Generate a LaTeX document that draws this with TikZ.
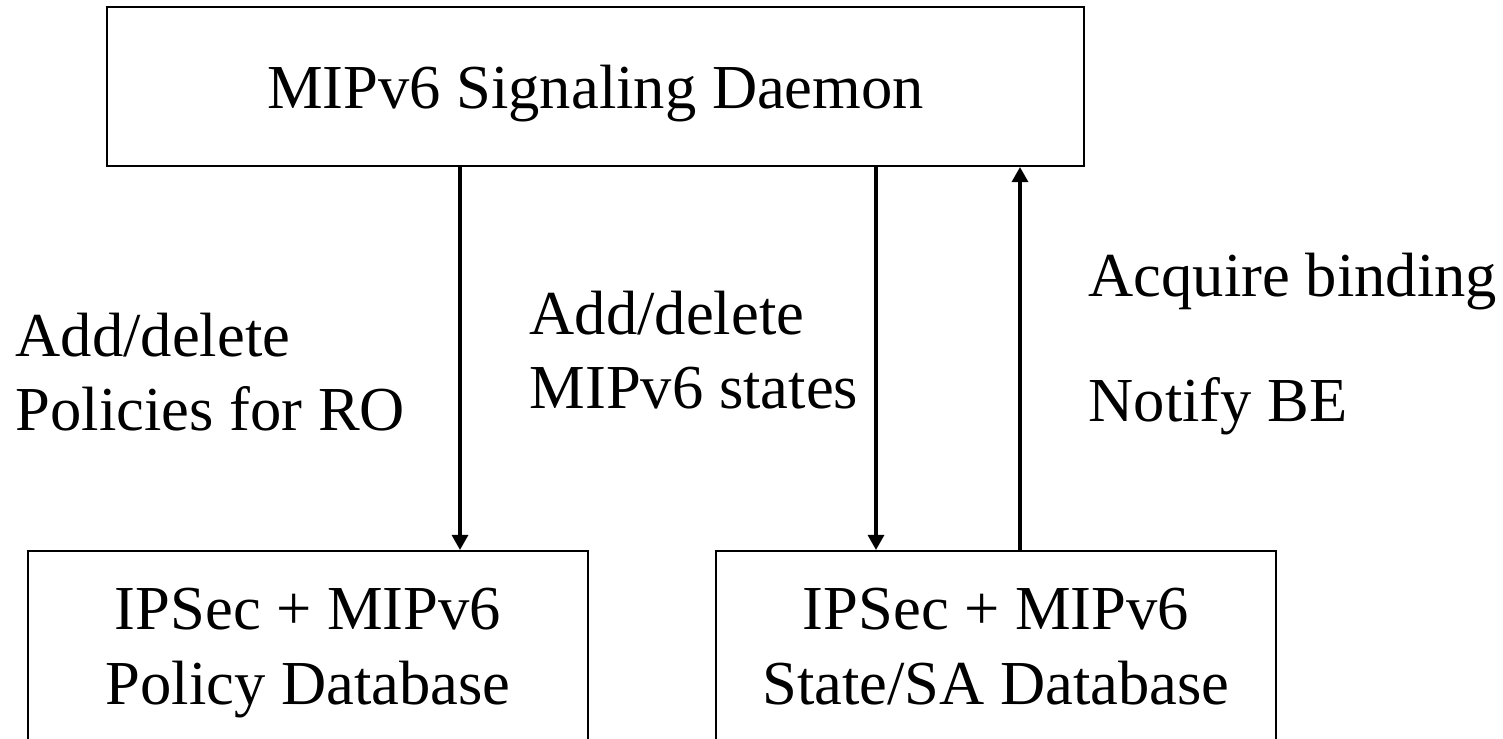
\documentclass[tikz,border=0pt]{standalone}
\usepackage{fontspec}
\setmainfont{Liberation Serif}
\usetikzlibrary{arrows.meta}

\begin{document}
\begin{tikzpicture}[
	box/.style={draw, line width=0.6pt, inner sep=0pt, align=center},
	dbbox/.style={box, minimum width=5.60cm, minimum height=2.05cm, text depth=0.14cm},
	flow/.style={line width=0.9pt, -{Triangle[width=0.16cm, length=0.15cm]}},
	lbl/.style={inner sep=0pt, align=left},
	every node/.style={font=\fontsize{17.8pt}{21.3pt}\selectfont}
	]
	
	\clip (0,0) rectangle (15.03,7.39);
	
	% Boxes
	\node[box, minimum width=9.77cm, minimum height=1.59cm, text depth=0pt] (daemon) at (5.955,6.525) {MIPv6 Signaling Daemon};
	\node[dbbox] (policydb) at (3.08,0.855) {IPSec + MIPv6\\Policy Database};
	\node[dbbox] (statedb) at (9.96,0.855) {IPSec + MIPv6\\State/SA Database};
	
	% Coordinates
	\coordinate (xa) at (4.60,0);
	\coordinate (xb) at (8.76,0);
	\coordinate (xc) at (10.20,0);
	
	% Arrows
	\draw[flow] (daemon.south -| xa) -- (policydb.north -| xa);
	\draw[flow] (daemon.south -| xb) -- (statedb.north -| xb);
	\draw[flow] (statedb.north -| xc) -- (daemon.south -| xc);
	
	% Labels
	\node[lbl, anchor=north west] (lblpolicy) at (0.15,4.27) {Add/delete\\Policies for RO};
	\node[lbl, anchor=north west] (lblstates) at (5.29,4.49) {Add/delete\\MIPv6 states};
	\node[lbl, anchor=base west] (lblacquire) at (10.88,4.42) {Acquire binding};
	\node[lbl, anchor=base west] (lblnotify) at (10.88,3.17) {Notify BE};
	
\end{tikzpicture}
\end{document}
